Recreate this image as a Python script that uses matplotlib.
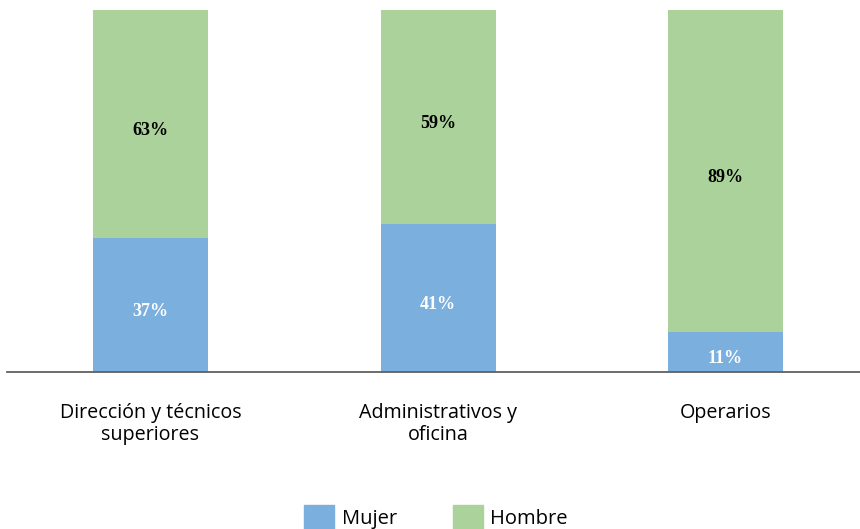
import matplotlib
matplotlib.use("Agg")
import matplotlib.pyplot as plt
from matplotlib.patches import Patch

categories = ["Dirección y técnicos\nsuperiores", "Administrativos y\noficina", "Operarios"]
mujer = [37, 41, 11]
hombre = [63, 59, 89]
series_names = ["Mujer", "Hombre"]

c_mujer = "#7BAFDE"
c_hombre = "#ABD29A"

fig = plt.figure(figsize=(8.6, 5.29), dpi=100)
ax = fig.add_axes([6.75 / 860, (529 - 372) / 529, 862.5 / 860, 362 / 529])

x = list(range(len(categories)))
ax.bar(x, mujer, width=0.4, color=c_mujer)
ax.bar(x, hombre, width=0.4, bottom=mujer, color=c_hombre)

for i in x:
    ax.annotate(f"{mujer[i]}%", (i, mujer[i] / 2), xytext=(0, -4.5), textcoords="offset points",
                ha="center", va="center", color="white", fontsize=13, fontweight="bold",
                family="Liberation Serif")
    ax.annotate(f"{hombre[i]}%", (i, mujer[i] + hombre[i] / 2), xytext=(0, -4.5), textcoords="offset points",
                ha="center", va="center", color="black", fontsize=13, fontweight="bold",
                family="Liberation Serif")

ax.set_xlim(-0.5, 2.5)
ax.set_ylim(0, 100)
ax.set_xticks(x)
ax.set_xticklabels(categories, fontsize=14.2, family="Open Sans", linespacing=1.13)
ax.tick_params(axis="x", length=0, pad=22)
ax.set_yticks([])
for s in ["top", "right", "left"]:
    ax.spines[s].set_visible(False)
ax.spines["bottom"].set_color("#606060")
ax.spines["bottom"].set_linewidth(1.3)

handles = [Patch(color=c_mujer), Patch(color=c_hombre)]
fig.legend(handles, series_names, loc="lower center", bbox_to_anchor=(0.507, -0.035), ncol=2,
           frameon=False, prop={"family": "Open Sans", "size": 14.5}, handlelength=1.5, handleheight=1.5,
           handletextpad=0.35, columnspacing=2.8)

fig.savefig("out.png", dpi=100)
